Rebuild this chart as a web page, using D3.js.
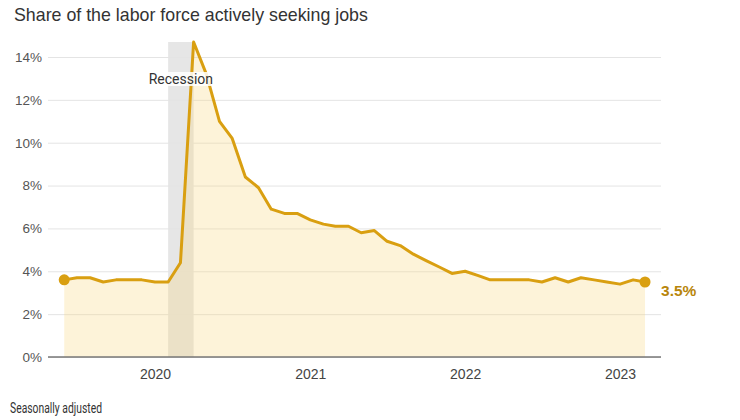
<!DOCTYPE html>
<html>
<head>
<meta charset="utf-8">
<script src="https://cdn.jsdelivr.net/npm/d3@7"></script>
<style>
  body { margin: 0; background: #fff; }
  svg { display: block; font-family: "Roboto", "Liberation Sans", sans-serif; }
  .title { font-family: "Liberation Sans", "Roboto", sans-serif; }
</style>
</head>
<body>
<svg id="chart"></svg>
<script>
// monthly unemployment rate, seasonally adjusted
const startMonth = "2019-06";
const rates = [
  3.6, 3.7, 3.7, 3.5, 3.6, 3.6, 3.6,                       // Jun-Dec 2019
  3.5, 3.5, 4.4, 14.7, 13.2, 11.0, 10.2, 8.4, 7.9, 6.9, 6.7, 6.7, // 2020
  6.4, 6.2, 6.1, 6.1, 5.8, 5.9, 5.4, 5.2, 4.8, 4.5, 4.2, 3.9,     // 2021
  4.0, 3.8, 3.6, 3.6, 3.6, 3.6, 3.5, 3.7, 3.5, 3.7, 3.6, 3.5,     // 2022
  3.4, 3.6, 3.5                                            // Jan-Mar 2023
];
const recession = ["2020-02", "2020-04"];
const yTicks = [0, 2, 4, 6, 8, 10, 12, 14];
const xTicks = ["2020-01", "2021-01", "2022-01", "2023-01"];

const parse = d3.timeParse("%Y-%m");
const start = parse(startMonth);
const data = rates.map((v, i) => ({ date: d3.timeMonth.offset(start, i), value: v }));

const W = 740, H = 420;
const margin = { top: 57, right: 79, bottom: 63, left: 48 };

const svg = d3.select("#chart").attr("width", W).attr("height", H);

const x = d3.scaleTime()
  .domain([parse("2020-01"), parse("2023-01")])
  .range([155, 620]);
const y = d3.scaleLinear().domain([0, 14]).range([H - margin.bottom, margin.top]);

const gridX0 = margin.left, gridX1 = W - margin.right;

// title
svg.append("text").attr("class", "title")
  .attr("x", 14).attr("y", 21)
  .attr("font-size", 17.8).attr("fill", "#333")
  .text("Share of the labor force actively seeking jobs");

// recession band
svg.append("rect")
  .attr("x", x(parse(recession[0])))
  .attr("width", x(parse(recession[1])) - x(parse(recession[0])))
  .attr("y", y(14.7)).attr("height", y(0) - y(14.7))
  .attr("fill", "#e6e6e6");

// grid lines
const yAxis = d3.axisLeft(y).tickValues(yTicks)
  .tickSize(-(gridX1 - gridX0)).tickFormat(d => d + "%");
const gy = svg.append("g").attr("transform", `translate(${gridX0},0)`).call(yAxis);
gy.select(".domain").remove();
gy.selectAll(".tick line").attr("stroke", "#e4e4e4").attr("stroke-width", 1);
gy.selectAll(".tick text").attr("x", -6).attr("font-size", 13.5).attr("fill", "#555");

// area + line
const area = d3.area().x(d => x(d.date)).y0(y(0)).y1(d => y(d.value));
svg.append("path").datum(data).attr("d", area)
  .attr("fill", "rgb(250,214,130)").attr("fill-opacity", 0.3);

// baseline
svg.append("line")
  .attr("x1", gridX0).attr("x2", gridX1)
  .attr("y1", y(0)).attr("y2", y(0))
  .attr("stroke", "#777").attr("stroke-width", 1.5);

const line = d3.line().x(d => x(d.date)).y(d => y(d.value));
svg.append("path").datum(data).attr("d", line)
  .attr("fill", "none").attr("stroke", "#d99f11")
  .attr("stroke-width", 3).attr("stroke-linejoin", "round");

// end dots
[data[0], data[data.length - 1]].forEach(d => {
  svg.append("circle").attr("cx", x(d.date)).attr("cy", y(d.value))
    .attr("r", 5.5).attr("fill", "#d99f11");
});

// last value label
const last = data[data.length - 1];
svg.append("text")
  .attr("x", x(last.date) + 16).attr("y", y(last.value) + 14)
  .attr("font-family", "Liberation Sans, Roboto, sans-serif")
  .attr("font-weight", "bold").attr("font-size", 15.5).attr("fill", "#b8860b")
  .text(last.value + "%");

// recession label
const recMid = (x(parse(recession[0])) + x(parse(recession[1]))) / 2;
const rl = svg.append("g");
const rt = rl.append("text")
  .attr("x", recMid).attr("y", y(12.6) - 3)
  .attr("text-anchor", "middle").attr("font-size", 14).attr("fill", "#333")
  .text("Recession");
const bb = rt.node().getBBox();
rl.insert("rect", "text")
  .attr("x", bb.x - 1).attr("y", bb.y + 1)
  .attr("width", bb.width + 2).attr("height", bb.height - 2)
  .attr("fill", "#fff").attr("fill-opacity", 0.85);

// x axis labels
const xAxis = d3.axisBottom(x).tickValues(xTicks.map(parse))
  .tickSize(0).tickFormat(d3.timeFormat("%Y"));
const gx = svg.append("g").attr("transform", `translate(0,${y(0)})`).call(xAxis);
gx.select(".domain").remove();
gx.selectAll(".tick text").attr("dy", 0).attr("y", 22)
  .attr("font-size", 14).attr("fill", "#444");

// footnote
svg.append("text")
  .attr("x", 10).attr("y", 413)
  .attr("font-size", 14.5).attr("fill", "#333")
  .attr("textLength", 92).attr("lengthAdjust", "spacingAndGlyphs")
  .text("Seasonally adjusted");
</script>
</body>
</html>
